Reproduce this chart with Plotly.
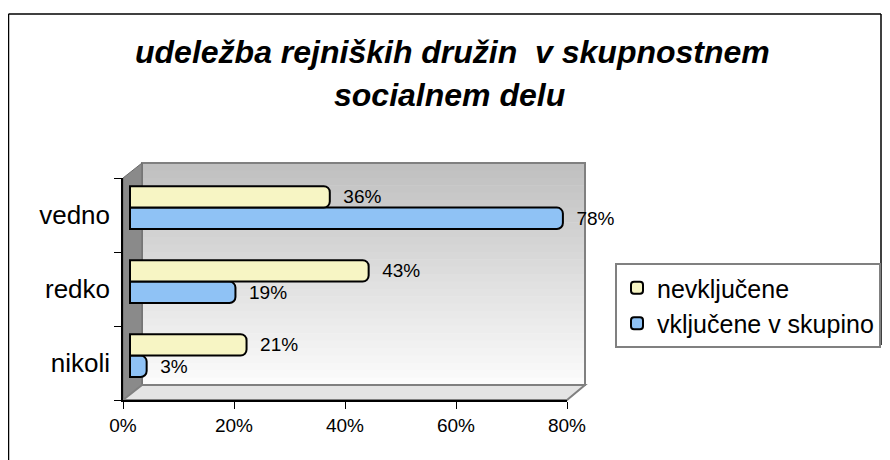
import plotly.graph_objects as go

categories = ["nikoli", "redko", "vedno"]
series_names = ["nevključene", "vključene v skupino"]
nevkljucene = [21, 43, 36]
vkljucene = [3, 19, 78]
x_ticks = [0, 20, 40, 60, 80]

FONT = "Liberation Sans, Arial, sans-serif"
# page has an 8px body margin, so the figure is offset by 8px in the window
W, H = 874, 452
L, R, T, B = 115, 315, 170, 60
PW, PH = W - L - R, H - T - B


def px(x):
    # x in page pixels -> paper
    return (x - 8 - L) / PW


def py(y):
    # y in page pixels -> paper
    return (H - B - (y - 8)) / PH


fig = go.Figure()

# invisible anchor trace so the main (visible) axes get drawn
fig.add_trace(go.Scatter(x=[x_ticks[0]], y=[categories[0]], mode="markers", marker=dict(opacity=0),
                         showlegend=False, hoverinfo="skip"))

fig.add_trace(go.Bar(
    y=categories, x=vkljucene, orientation="h", name=series_names[1],
    xaxis="x2", yaxis="y2",
    marker=dict(color="#8fc2f5", line=dict(color="#000000", width=2), cornerradius=6),
    text=[f"\u00a0\u00a0{v}%" for v in vkljucene], textposition="outside", cliponaxis=False,
    textfont=dict(family=FONT, size=19, color="#000000"),
))
fig.add_trace(go.Bar(
    y=categories, x=nevkljucene, orientation="h", name=series_names[0],
    xaxis="x2", yaxis="y2",
    marker=dict(color="#f7f5c4", line=dict(color="#000000", width=2), cornerradius=6),
    text=[f"\u00a0\u00a0{v}%" for v in nevkljucene], textposition="outside", cliponaxis=False,
    textfont=dict(family=FONT, size=19, color="#000000"),
))

shapes = []
# outer frame
shapes.append(dict(type="line", xref="paper", yref="paper", x0=px(8.5), x1=px(8.5), y0=py(14), y1=py(470),
                   line=dict(color="#000000", width=1.5)))
shapes.append(dict(type="line", xref="paper", yref="paper", x0=px(8.5), x1=px(881), y0=py(14), y1=py(14),
                   line=dict(color="#000000", width=1.5)))
shapes.append(dict(type="line", xref="paper", yref="paper", x0=px(881), x1=px(881), y0=py(14), y1=py(345),
                   line=dict(color="#000000", width=1.5)))

# back wall gradient
top, bot = 163, 385
n = 30
c0, c1 = (192, 192, 192), (252, 252, 252)
for i in range(n):
    f = i / (n - 1)
    c = tuple(int(c0[k] + (c1[k] - c0[k]) * f) for k in range(3))
    y0 = top + (bot - top) * i / n
    y1 = top + (bot - top) * (i + 1) / n
    shapes.append(dict(type="rect", xref="paper", yref="paper", layer="below",
                       x0=px(142), x1=px(585), y0=py(y0), y1=py(y1 + 0.5),
                       fillcolor=f"rgb{c}", line=dict(width=0)))
shapes.append(dict(type="rect", xref="paper", yref="paper", layer="below",
                   x0=px(142), x1=px(585), y0=py(top), y1=py(bot),
                   fillcolor="rgba(0,0,0,0)", line=dict(color="#808080", width=2)))
# side wall
shapes.append(dict(type="path", xref="paper", yref="paper", layer="below",
                   path=f"M{px(123)},{py(178)} L{px(142)},{py(163)} L{px(142)},{py(385)} L{px(123)},{py(400)} Z",
                   fillcolor="#8a8a8a", line=dict(color="#6a6a6a", width=1)))
# floor
shapes.append(dict(type="path", xref="paper", yref="paper", layer="below",
                   path=f"M{px(123)},{py(400)} L{px(142)},{py(385)} L{px(585)},{py(385)} L{px(567)},{py(400)} Z",
                   fillcolor="#e4e4e4", line=dict(color="#808080", width=2)))

annotations = [
    dict(text="<b><i>udeležba rejniških družin  v skupnostnem</i></b>", xref="paper", yref="paper",
         x=px(452), y=py(52), xanchor="center", yanchor="middle", showarrow=False,
         font=dict(family=FONT, size=32, color="#000000")),
    dict(text="<b><i>socialnem delu</i></b>", xref="paper", yref="paper",
         x=px(449), y=py(95), xanchor="center", yanchor="middle", showarrow=False,
         font=dict(family=FONT, size=32, color="#000000")),
]

fig.update_layout(
    width=W, height=H,
    margin=dict(l=L, r=R, t=T, b=B, pad=0, autoexpand=False),
    paper_bgcolor="#ffffff", plot_bgcolor="rgba(0,0,0,0)",
    barmode="group", bargap=0.42, bargroupgap=0,
    showlegend=True,
    legend=dict(x=px(615), y=py(263), xanchor="left", yanchor="top",
                bordercolor="#808080", borderwidth=2, bgcolor="#ffffff",
                traceorder="reversed", font=dict(family=FONT, size=25, color="#000000"),
                tracegroupgap=2),
    xaxis=dict(range=[0, 80], tickvals=x_ticks, ticktext=[f"{v}%" for v in x_ticks],
               showgrid=False, zeroline=False, showline=True, linecolor="#000000", linewidth=1.5,
               ticks="outside", ticklen=7, tickcolor="#000000", tickwidth=1,
               tickfont=dict(family=FONT, size=19, color="#000000"), ticklabelstandoff=0),
    xaxis2=dict(range=[-7 / 5.55, 80 - 7 / 5.55], overlaying="x", visible=False),
    yaxis=dict(type="category", categoryarray=categories, range=[-0.5, 2.5],
               showgrid=False, zeroline=False, showline=True, linecolor="#000000", linewidth=1.5,
               ticks="outside", ticklen=7, tickcolor="#000000", tickson="boundaries",
               tickfont=dict(family=FONT, size=26, color="#000000"), ticklabelstandoff=6),
    yaxis2=dict(type="category", categoryarray=categories, range=[-0.6, 2.4], overlaying="y", visible=False),
    shapes=shapes, annotations=annotations,
)

fig.write_html("out.html")
